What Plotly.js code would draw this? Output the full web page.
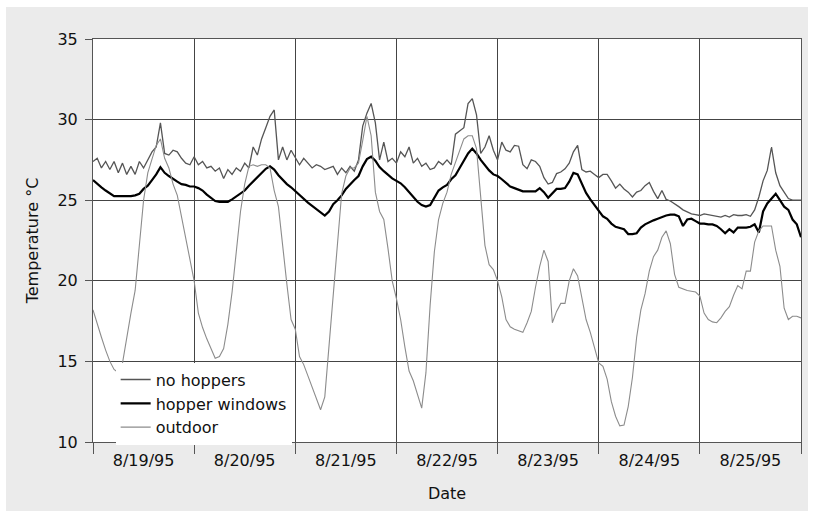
<!DOCTYPE html>
<html>
<head>
<meta charset="utf-8">
<script src="https://cdn.plot.ly/plotly-3.0.1.min.js"></script>
<style>
  html, body { margin: 0; padding: 0; background: #ffffff; }
  #frame { position: absolute; left: 6px; top: 7px; width: 802px; height: 504px; background: #ebebeb; }
  #chart { position: absolute; left: 0; top: 0; width: 818px; height: 512px; }
</style>
</head>
<body>
<div id="frame"></div>
<div id="chart"></div>
<script>
// Hourly readings starting 8/19/95 00:00 (one row per day, final value at 8/26 00:00)
const startDate = "1995-08-19";
const dayLabels = ["8/19/95", "8/20/95", "8/21/95", "8/22/95", "8/23/95", "8/24/95", "8/25/95"];

const noHoppers = [
  27.4, 27.6, 27.0, 27.4, 26.9, 27.4, 26.7, 27.3, 26.6, 27.1, 26.6, 27.4, 27.0, 27.5, 28.0, 28.3, 29.8, 27.9, 27.8, 28.1, 28.0, 27.6, 27.3, 27.2,
  27.7, 27.2, 27.4, 27.0, 27.1, 26.8, 27.0, 26.35, 26.9, 26.6, 27.0, 26.8, 27.3, 27.0, 28.3, 27.8, 28.8, 29.5, 30.2, 30.6, 27.5, 28.3, 27.5, 28.1,
  27.6, 27.2, 27.6, 27.3, 27.0, 27.2, 27.1, 26.9, 27.0, 27.1, 26.6, 27.0, 26.7, 27.1, 26.8, 27.5, 29.6, 30.4, 31.0, 29.8, 27.5, 28.6, 27.4, 27.6,
  27.3, 28.0, 27.7, 28.3, 27.3, 27.6, 27.1, 27.3, 26.9, 27.0, 27.4, 27.2, 27.5, 27.2, 29.1, 29.3, 29.5, 31.0, 31.3, 30.3, 27.9, 28.3, 29.0, 28.1,
  27.5, 28.6, 28.1, 28.0, 28.4, 28.35, 27.2, 26.95, 27.5, 27.4, 27.1, 26.4, 26.0, 26.1, 26.65, 26.75, 26.95, 27.3, 28.0, 28.4, 26.9, 26.75, 26.8, 26.6,
  26.4, 26.6, 26.6, 26.2, 25.75, 26.0, 25.7, 25.5, 25.2, 25.5, 25.6, 25.9, 26.1, 25.55, 25.1, 25.6, 25.05, 24.95, 24.8, 24.6, 24.4, 24.25, 24.15, 24.1,
  24.05, 24.15, 24.1, 24.05, 24.0, 23.95, 24.05, 23.95, 24.1, 24.05, 24.05, 24.1, 24.0, 24.4, 25.2, 26.2, 26.85, 28.3, 26.7, 25.9, 25.5, 25.1, 25.0, 25.0,
  25.0
];

const hopperWindows = [
  26.25, 26.0, 25.8, 25.6, 25.4, 25.25, 25.25, 25.25, 25.25, 25.25, 25.3, 25.4, 25.7, 25.9, 26.25, 26.6, 27.05, 26.7, 26.5, 26.3, 26.15, 26.0, 25.95, 25.85,
  25.85, 25.75, 25.6, 25.35, 25.15, 24.95, 24.9, 24.9, 24.9, 25.05, 25.25, 25.45, 25.6, 25.9, 26.15, 26.4, 26.7, 26.95, 27.1, 26.9, 26.55, 26.25, 26.0, 25.8,
  25.55, 25.3, 25.1, 24.85, 24.65, 24.45, 24.25, 24.05, 24.3, 24.75, 25.0, 25.3, 25.7, 26.0, 26.25, 26.5, 27.1, 27.55, 27.7, 27.45, 27.05, 26.8, 26.55, 26.35,
  26.2, 26.05, 25.8, 25.5, 25.15, 24.9, 24.7, 24.6, 24.7, 25.2, 25.6, 25.8, 25.95, 26.3, 26.55, 27.0, 27.5, 27.9, 28.2, 27.9, 27.5, 27.15, 26.85, 26.6,
  26.5, 26.3, 26.05, 25.85, 25.75, 25.65, 25.55, 25.55, 25.55, 25.55, 25.75, 25.5, 25.15, 25.4, 25.7, 25.7, 25.75, 26.15, 26.7, 26.6, 26.0, 25.45, 25.05, 24.7,
  24.3, 24.0, 23.85, 23.55, 23.35, 23.25, 23.2, 22.9, 22.9, 22.95, 23.3, 23.5, 23.65, 23.75, 23.85, 23.95, 24.05, 24.1, 24.1, 24.0, 23.4, 23.8, 23.85, 23.7,
  23.55, 23.55, 23.5, 23.5, 23.4, 23.2, 22.95, 23.2, 23.0, 23.3, 23.3, 23.3, 23.35, 23.5, 23.0, 24.3, 24.8, 25.1, 25.4, 25.0, 24.6, 24.4, 23.8, 23.5,
  22.7
];

const outdoor = [
  18.2, 17.3, 16.5, 15.7, 15.0, 14.5, 14.3, 14.9, 16.5, 18.0, 19.4, 22.0, 25.0, 26.7, 27.6, 28.4, 28.8, 27.6, 27.0, 26.0, 25.3, 24.0, 22.6, 21.2,
  20.0, 18.0, 17.1, 16.4, 15.75, 15.2, 15.3, 15.8, 17.3, 19.3, 21.8, 24.3, 26.0, 27.1, 27.2, 27.1, 27.2, 27.2, 27.0, 25.6, 24.6, 22.0, 19.8, 17.6,
  17.0, 15.3, 14.8, 14.1, 13.4, 12.8, 12.0, 12.8, 16.0, 18.8, 22.5, 25.4, 26.5, 27.0, 27.0, 27.3, 28.7, 30.2, 29.0, 25.5, 24.3, 23.8, 22.0, 20.0,
  18.9, 17.6, 15.9, 14.4, 13.8, 13.0, 12.1, 14.3, 18.5, 21.8, 23.8, 24.8, 25.5, 26.6, 27.3, 28.1, 28.8, 29.0, 29.0, 28.2, 25.0, 22.2, 21.0, 20.7,
  20.0, 19.0, 17.6, 17.15, 17.0, 16.9, 16.8, 17.4, 18.1, 19.6, 20.9, 21.9, 21.2, 17.4, 18.1, 18.6, 18.6, 20.0, 20.75, 20.3, 18.9, 17.6, 16.8, 15.8,
  14.9, 14.7, 13.9, 12.5, 11.6, 11.0, 11.05, 12.2, 14.0, 16.5, 18.2, 19.2, 20.6, 21.5, 21.9, 22.7, 23.1, 22.3, 20.4, 19.6, 19.5, 19.4, 19.35, 19.3,
  19.05, 18.0, 17.6, 17.45, 17.4, 17.7, 18.1, 18.4, 19.1, 19.7, 19.5, 20.6, 20.6, 22.4, 23.1, 23.4, 23.4, 23.4, 21.9, 20.9, 18.3, 17.6, 17.8, 17.8,
  17.7
];

function hourStamps(n) {
  const t0 = Date.parse(startDate + "T00:00:00Z");
  const out = [];
  for (let i = 0; i < n; i++) {
    out.push(new Date(t0 + i * 3600000).toISOString().slice(0, 16).replace("T", " "));
  }
  return out;
}
const times = hourStamps(noHoppers.length);

const FONT = "DejaVu Sans, Arial, sans-serif";

const traces = [
  { x: times, y: noHoppers, name: "no hoppers", type: "scatter", mode: "lines",
    line: { color: "#555555", width: 1.3 } },
  { x: times, y: hopperWindows, name: "hopper windows", type: "scatter", mode: "lines",
    line: { color: "#000000", width: 2.2 } },
  { x: times, y: outdoor, name: "outdoor", type: "scatter", mode: "lines",
    line: { color: "#8c8c8c", width: 1.1 } }
];

const layout = {
  width: 818, height: 512,
  margin: { l: 93, r: 17, t: 39, b: 70 },
  paper_bgcolor: "rgba(0,0,0,0)",
  plot_bgcolor: "#ffffff",
  font: { family: FONT, size: 16, color: "#111111" },
  showlegend: true,
  legend: {
    x: 0.032, y: 0.197, xanchor: "left", yanchor: "top",
    bgcolor: "#ffffff", borderwidth: 0,
    font: { family: FONT, size: 16, color: "#111111" },
    tracegroupgap: 0
  },
  xaxis: {
    type: "date",
    range: [startDate, "1995-08-26"],
    tick0: startDate, dtick: 86400000,
    tickformat: "%-m/%-d/%y",
    ticklabelmode: "period",
    ticks: "outside", ticklen: 11, tickcolor: "#555555", tickwidth: 1,
    ticklabelstandoff: -7,
    showgrid: true, gridcolor: "#444444", gridwidth: 1,
    showline: true, linecolor: "#555555", linewidth: 1, mirror: true,
    zeroline: false,
    tickfont: { family: FONT, size: 16, color: "#111111" },
    title: { text: "Date", font: { family: FONT, size: 16, color: "#111111" }, standoff: 18 }
  },
  yaxis: {
    range: [10, 35], dtick: 5, tick0: 10,
    ticks: "outside", ticklen: 7, tickcolor: "#555555", tickwidth: 1,
    ticklabelstandoff: 4,
    showgrid: true, gridcolor: "#444444", gridwidth: 1,
    showline: true, linecolor: "#555555", linewidth: 1, mirror: true,
    zeroline: false,
    tickfont: { family: FONT, size: 16, color: "#111111" },
    title: { text: "Temperature \u00B0C", font: { family: FONT, size: 16, color: "#111111" }, standoff: 14 }
  }
};

Plotly.newPlot("chart", traces, layout, { staticPlot: true, displayModeBar: false });
</script>
</body>
</html>
